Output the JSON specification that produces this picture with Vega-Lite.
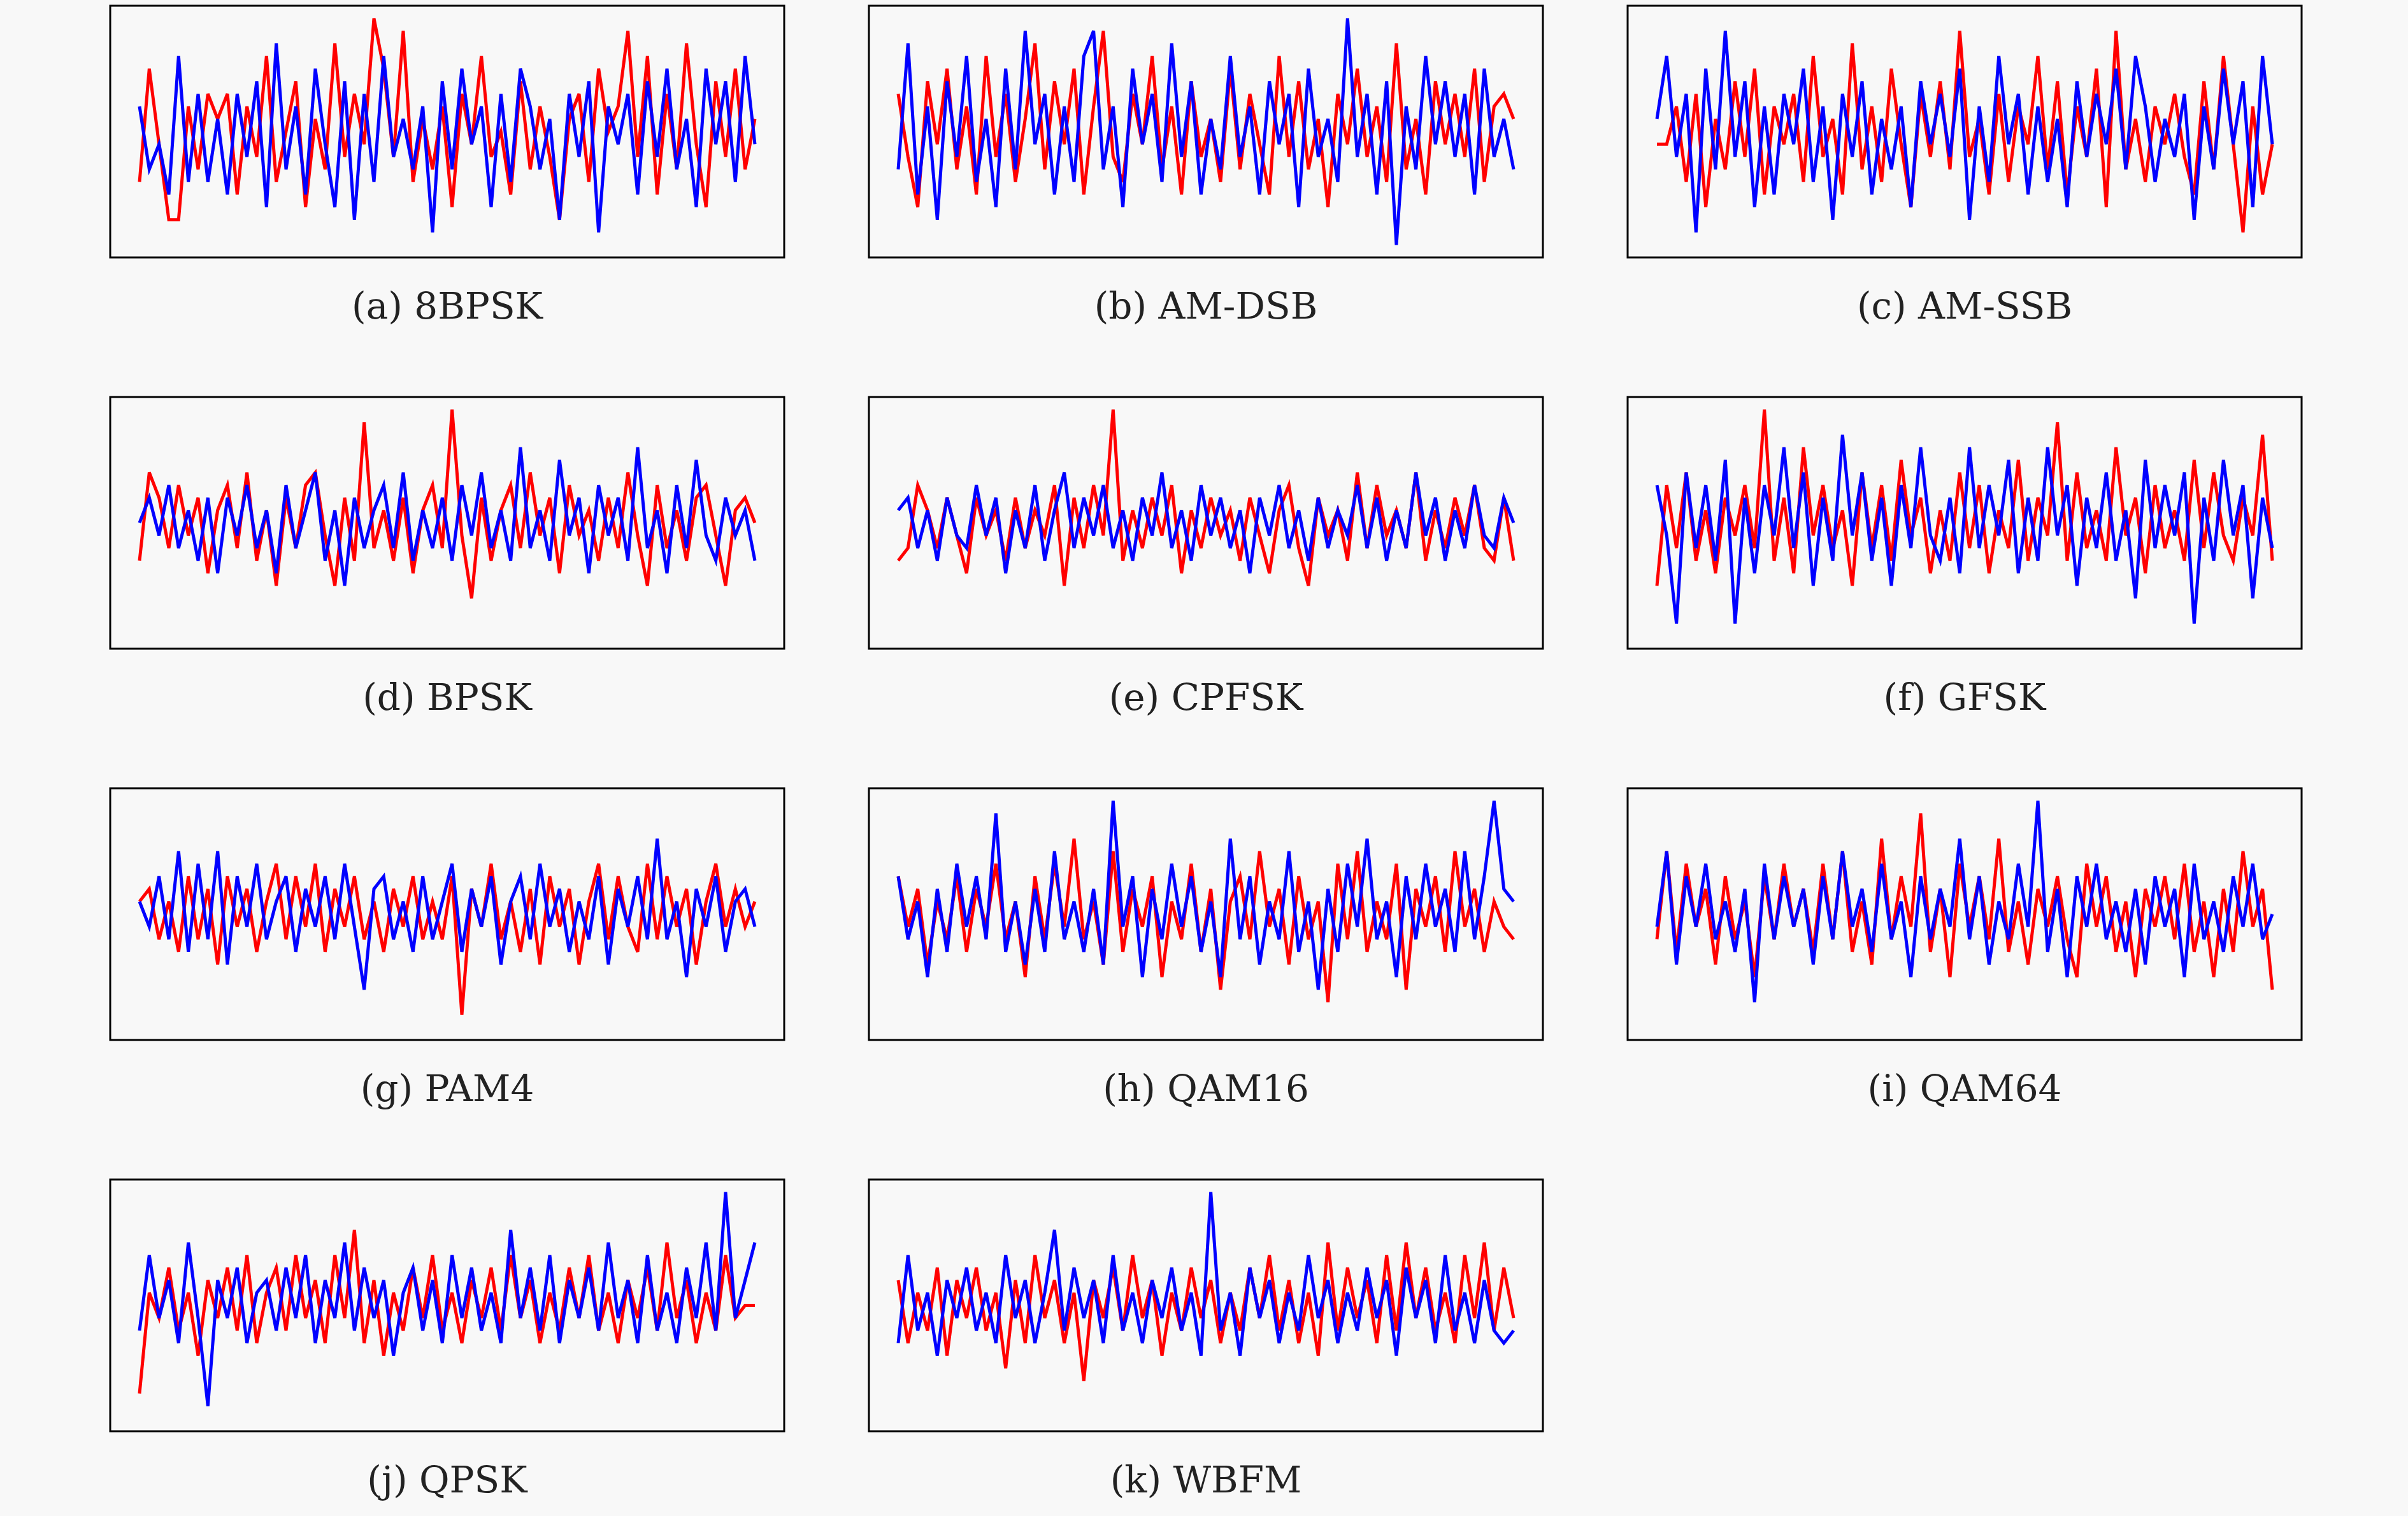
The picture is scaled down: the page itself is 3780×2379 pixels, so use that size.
{
  "$schema": "https://vega.github.io/schema/vega-lite/v6.json",
  "background": "#f8f8f8",
  "padding": {"left": 171, "top": 7, "right": 175, "bottom": 60},
  "datasets": {
    "sig": [
      {"p": "(a) 8BPSK",
       "r": [-4,5,-1,-7,-7,2,-3,3,1,3,-5,2,-2,6,-4,0,4,-6,1,-3,7,-2,3,-1,9,5,-2,8,-4,1,-3,2,-6,3,-1,6,-2,0,-5,4,-3,2,-2,-7,1,3,-4,5,0,2,8,-2,6,-5,3,-3,7,-1,-6,4,-2,5,-3,1],
       "b": [2,-3,-1,-5,6,-4,3,-4,1,-5,3,-2,4,-6,7,-3,2,-5,5,-1,-6,4,-7,3,-4,6,-2,1,-3,2,-8,4,-3,5,-1,2,-6,3,-4,5,2,-3,1,-7,3,-2,4,-8,2,-1,3,-5,4,-2,5,-3,1,-6,5,-1,4,-4,6,-1]},
      {"p": "(b) AM-DSB",
       "r": [3,-2,-6,4,-1,5,-3,2,-5,6,-2,3,-4,1,7,-3,4,-1,5,-5,2,8,-2,-4,3,-1,6,-3,2,-5,4,-2,1,-4,5,-3,3,-1,-5,6,-2,4,-3,1,-6,3,-1,5,-2,2,-4,7,-3,1,-5,4,-1,3,-2,5,-4,2,3,1],
       "b": [-3,7,-5,2,-7,4,-2,6,-4,1,-6,5,-3,8,-1,3,-5,2,-4,6,8,-3,2,-6,5,-1,3,-4,7,-2,4,-5,1,-3,6,-2,2,-5,4,-1,3,-6,5,-2,1,-4,9,-2,3,-5,4,-9,2,-3,6,-1,4,-2,3,-5,5,-2,1,-3]},
      {"p": "(c) AM-SSB",
       "r": [-1,-1,2,-4,3,-6,1,-3,4,-2,5,-5,2,-1,3,-4,6,-2,1,-5,7,-3,2,-4,5,-1,-6,3,-2,4,-3,8,-2,1,-5,3,-4,2,-1,6,-3,4,-5,2,-2,5,-6,8,-3,1,-4,2,-1,3,-2,-5,4,-3,6,-1,-8,2,-5,-1],
       "b": [1,6,-2,3,-8,5,-3,8,-2,4,-6,2,-5,3,-1,5,-4,2,-7,3,-2,4,-5,1,-3,2,-6,4,-1,3,-2,5,-7,2,-4,6,-1,3,-5,2,-4,1,-6,4,-2,3,-1,5,-3,6,2,-4,1,-2,3,-7,2,-3,5,-1,4,-6,6,-1]},
      {"p": "(d) BPSK",
       "r": [-3,4,2,-2,3,-1,2,-4,1,3,-2,4,-3,1,-5,2,-2,3,4,-1,-5,2,-3,8,-2,1,-3,2,-4,1,3,-2,9,-1,-6,2,-3,1,3,-2,4,-1,2,-4,3,-1,1,-3,2,-2,4,-1,-5,3,-2,1,-3,2,3,-1,-5,1,2,0],
       "b": [0,2,-1,3,-2,1,-3,2,-4,2,-1,3,-2,1,-4,3,-2,1,4,-3,1,-5,2,-2,1,3,-2,4,-3,1,-2,2,-3,3,-1,4,-2,1,-3,6,-2,1,-3,5,-1,2,-4,3,-1,2,-3,6,-2,1,-4,3,-2,5,-1,-3,2,-1,1,-3]},
      {"p": "(e) CPFSK",
       "r": [-3,-2,3,1,-2,2,-1,-4,2,-1,1,-3,2,-2,1,-1,3,-5,2,-2,3,-1,9,-3,1,-2,2,-1,3,-4,1,-2,2,-1,1,-3,2,-1,-4,1,3,-2,-5,2,-1,1,-3,4,-2,3,-1,1,-2,4,-3,1,-2,2,-1,3,-2,-3,2,-3],
       "b": [1,2,-2,1,-3,2,-1,-2,3,-1,2,-4,1,-2,3,-3,1,4,-2,2,-1,3,-2,1,-3,2,-1,4,-2,1,-3,3,-1,2,-2,1,-4,2,-1,3,-2,1,-3,2,-2,1,-1,3,-2,2,-3,1,-2,4,-1,2,-3,1,-2,3,-1,-2,2,0]},
      {"p": "(f) GFSK",
       "r": [-5,3,-2,4,-3,1,-4,2,-1,3,-2,9,-3,2,-4,6,-1,3,-2,1,-5,4,-2,3,-3,5,-1,2,-4,1,-3,4,-2,3,-4,1,-2,5,-3,2,-1,8,-3,4,-2,1,-3,6,-1,2,-4,3,-2,1,-3,5,-2,4,-1,-3,2,-1,7,-3],
       "b": [3,-1,-8,4,-2,3,-3,5,-8,2,-4,3,-1,6,-2,4,-5,2,-3,7,-1,4,-3,2,-5,3,-2,6,-1,-3,2,-4,6,-2,3,-1,5,-4,2,-3,6,-1,3,-5,2,-2,4,-3,1,-6,5,-2,3,-1,4,-8,2,-3,5,-1,3,-6,2,-2]},
      {"p": "(g) PAM4",
       "r": [1,2,-2,1,-3,3,-2,2,-4,3,-1,2,-3,1,4,-2,3,-1,4,-3,2,-1,3,-2,1,-3,2,-1,3,-2,1,-2,3,-8,2,-1,4,-2,1,-3,2,-4,3,-1,2,-4,1,4,-2,3,-1,-3,4,-2,3,-1,2,-4,1,4,-1,2,-1,1],
       "b": [1,-1,3,-2,5,-3,4,-2,5,-4,3,-1,4,-2,1,3,-3,2,-1,3,-2,4,-1,-6,2,3,-2,1,-3,3,-2,1,4,-3,2,-1,3,-4,1,3,-2,4,-1,2,-3,1,-2,3,-4,2,-1,3,-2,6,-2,1,-5,2,-1,3,-3,1,2,-1]},
      {"p": "(h) QAM16",
       "r": [3,-1,2,-4,1,-2,3,-3,2,-1,4,-2,1,-5,3,-2,4,-1,6,-2,1,-4,5,-3,2,-1,3,-5,1,-2,4,-3,2,-6,1,3,-2,5,-1,2,-4,3,-2,1,-7,4,-2,5,-3,1,-2,4,-6,2,-1,3,-3,5,-1,2,-3,1,-1,-2],
       "b": [3,-2,1,-5,2,-3,4,-1,3,-2,8,-3,1,-4,2,-3,5,-2,1,-3,2,-4,9,-1,3,-5,2,-2,4,-1,3,-3,1,-5,6,-2,3,-4,1,-2,5,-3,1,-6,2,-3,4,-1,6,-2,1,-5,3,-2,4,-1,2,-3,5,-2,3,9,2,1]},
      {"p": "(i) QAM64",
       "r": [-2,5,-3,4,-1,2,-4,3,-2,1,-5,3,-2,4,-1,2,-3,4,-2,5,-3,1,-4,6,-2,3,-1,8,-3,2,-5,4,-1,3,-2,6,-3,1,-4,2,-1,3,-2,-5,4,-1,3,-3,1,-5,2,-1,3,-2,4,-3,1,-5,2,-3,5,-1,2,-6],
       "b": [-1,5,-4,3,-1,4,-2,1,-3,2,-7,4,-2,3,-1,2,-4,3,-2,5,-1,2,-3,4,-2,1,-5,3,-2,2,-1,6,-2,3,-4,1,-2,4,-1,9,-3,2,-5,3,-1,4,-2,1,-3,2,-4,3,-1,2,-5,4,-2,1,-3,3,-1,4,-2,0]},
      {"p": "(j) QPSK",
       "r": [-7,1,-1,3,-2,1,-4,2,-1,3,-2,4,-3,1,3,-2,4,-1,2,-3,4,-1,6,-3,2,-4,1,-2,3,-1,4,-2,1,-3,2,-1,3,-2,4,-1,2,-3,1,-2,3,-1,4,-2,1,-3,2,-1,3,-2,5,-1,2,-3,1,-2,4,-1,0,0],
       "b": [-2,4,-1,2,-3,5,-1,-8,2,-1,3,-3,1,2,-2,3,-1,4,-3,2,-1,5,-2,3,-1,2,-4,1,3,-2,2,-3,4,-1,3,-2,1,-3,6,-1,3,-2,4,-3,2,-1,3,-2,5,-1,2,-3,4,-2,1,-3,3,-1,5,-2,9,-1,2,5]},
      {"p": "(k) WBFM",
       "r": [2,-3,1,-2,3,-4,2,-1,3,-2,1,-5,2,-3,4,-1,2,-3,1,-6,2,-1,3,-2,4,-1,2,-4,1,-2,3,-1,2,-3,1,-2,3,-1,4,-2,2,-3,1,-4,5,-2,3,-1,2,-3,4,-2,5,-1,3,-2,1,-3,4,-1,5,-2,3,-1],
       "b": [-3,4,-2,1,-4,2,-1,3,-2,1,-3,4,-1,2,-3,1,6,-2,3,-1,2,-3,4,-2,1,-3,2,-1,3,-2,1,-4,9,-2,1,-4,3,-1,2,-3,1,-2,4,-1,2,-3,1,-2,3,-1,2,-4,3,-1,2,-3,4,-2,1,-3,2,-2,-3,-2]}
    ]
  },
  "data": {"name": "sig"},
  "transform": [
    {"flatten": ["r", "b"]},
    {"window": [{"op": "row_number", "as": "i"}], "groupby": ["p"]},
    {"fold": ["r", "b"], "as": ["s", "v"]}
  ],
  "facet": {
    "field": "p",
    "type": "nominal",
    "title": null,
    "header": {
      "labelOrient": "bottom",
      "labelFont": "DejaVu Serif",
      "labelFontSize": 58,
      "labelColor": "#222222",
      "labelPadding": 50
    }
  },
  "columns": 3,
  "spacing": {"column": 129, "row": 107},
  "spec": {
    "width": 1058,
    "height": 395,
    "mark": {"type": "line", "strokeWidth": 5},
    "encoding": {
      "x": {"field": "i", "type": "quantitative", "axis": null, "scale": {"domain": [-2, 67], "nice": false, "zero": false}},
      "y": {"field": "v", "type": "quantitative", "axis": null, "scale": {"domain": [-10, 10], "nice": false}},
      "color": {"field": "s", "type": "nominal", "legend": null, "scale": {"domain": ["r", "b"], "range": ["#ff0000", "#0000ff"]}}
    }
  },
  "config": {"view": {"stroke": "black", "strokeWidth": 3, "fill": "#f8f8f8"}}
}
